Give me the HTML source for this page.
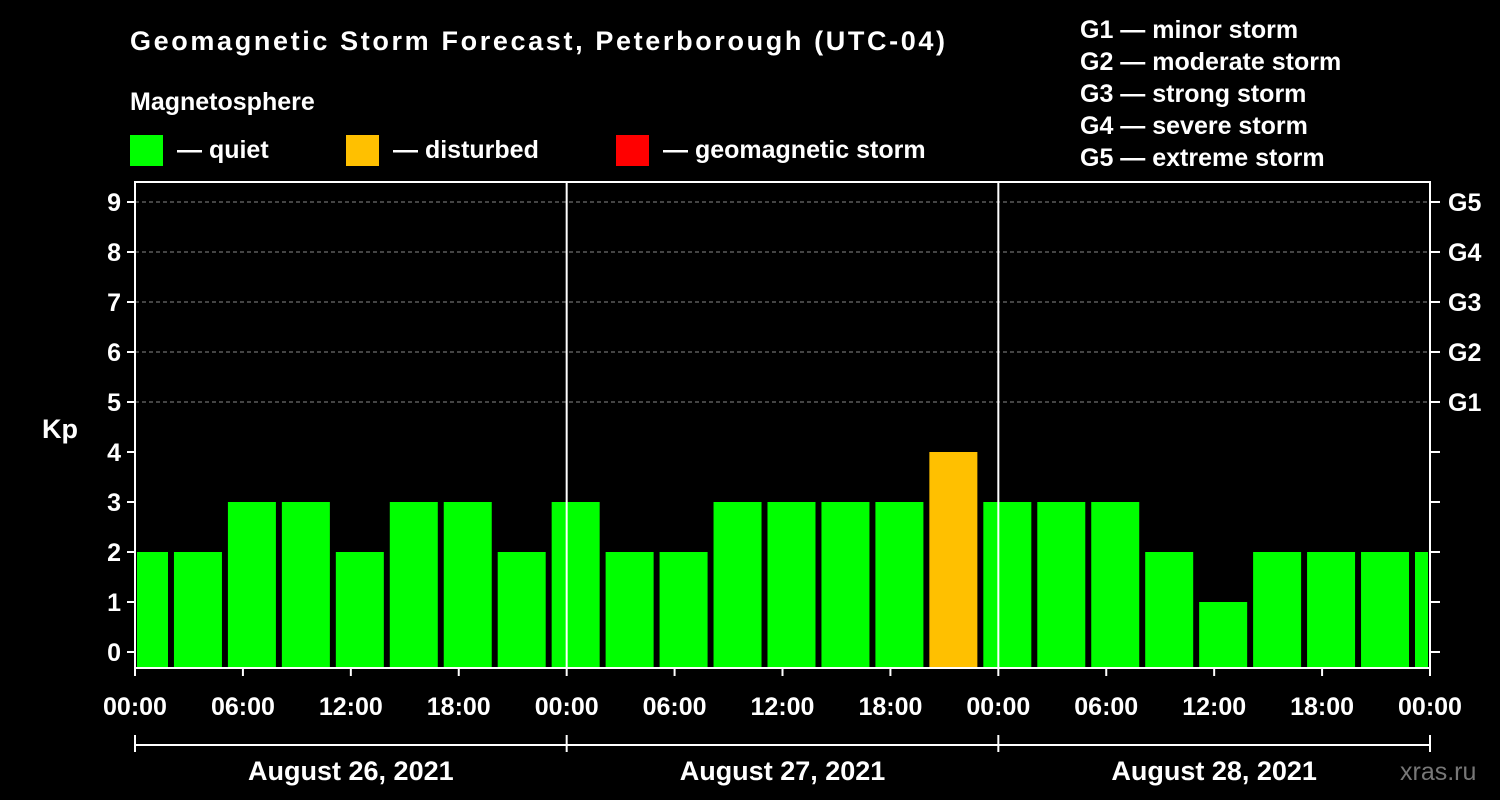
<!DOCTYPE html>
<html><head><meta charset="utf-8"><style>
html,body{margin:0;padding:0;background:#000;}
svg{display:block;font-family:"Liberation Sans",Arial,sans-serif;font-weight:bold;}
</style></head><body>
<svg id="chart" width="1500" height="800" viewBox="0 0 1500 800">
<rect width="1500" height="800" fill="#000"/>
<text x="130" y="50" font-size="27" fill="#fff" textLength="815">Geomagnetic Storm Forecast, Peterborough (UTC-04)</text>
<text x="130" y="110" font-size="25" fill="#fff">Magnetosphere</text>
<g><rect x="130" y="135" width="33" height="31" fill="#00ff00"/><text x="177" y="158" font-size="25" fill="#fff">— quiet</text></g>
<g><rect x="346" y="135" width="33" height="31" fill="#ffc000"/><text x="393" y="158" font-size="25" fill="#fff">— disturbed</text></g>
<g><rect x="616" y="135" width="33" height="31" fill="#ff0000"/><text x="663" y="158" font-size="25" fill="#fff">— geomagnetic storm</text></g>
<g font-size="25" fill="#fff">
<text x="1080" y="38">G1 — minor storm</text>
<text x="1080" y="70">G2 — moderate storm</text>
<text x="1080" y="102">G3 — strong storm</text>
<text x="1080" y="134">G4 — severe storm</text>
<text x="1080" y="166">G5 — extreme storm</text>
</g>
<text x="42" y="438" font-size="27" fill="#fff">Kp</text>
<g id="grid"></g><g id="bars"></g><g id="axes"></g>
<text x="1400" y="780" font-size="25" fill="#777" font-weight="normal">xras.ru</text>
</svg>
<script>
const kpValues=[2,2,3,3,2,3,3,2,3,2,2,3,3,3,3,4,3,3,3,2,1,2,2,2,2];
const yTicks=[0,1,2,3,4,5,6,7,8,9];
const gLabels=["G1","G2","G3","G4","G5"];
const xTickLabels=["00:00","06:00","12:00","18:00","00:00","06:00","12:00","18:00","00:00","06:00","12:00","18:00","00:00"];
const dayLabels=["August 26, 2021","August 27, 2021","August 28, 2021"];
const NS="http://www.w3.org/2000/svg";
const L=135,R=1430,T=182,B=668;
const hours=72;
const xs=h=>L+(R-L)*h/hours;
const ys=v=>652-50*v;
function mk(tag,attrs,parent,text){const e=document.createElementNS(NS,tag);for(const k in attrs)e.setAttribute(k,attrs[k]);if(text!=null)e.textContent=text;parent.appendChild(e);return e;}
const grid=document.getElementById('grid'),bars=document.getElementById('bars'),axes=document.getElementById('axes');
yTicks.forEach(v=>{if(v>=5){const g=mk('line',{x1:L,x2:R,y1:ys(v),y2:ys(v),stroke:'#888','stroke-dasharray':'4,3','stroke-width':1},grid);

}});
kpValues.forEach((v,i)=>{const c=xs(i*3+0.5);let x0=Math.max(L+2,c-24),x1=Math.min(R-2,c+24);
const col=v>=5?'#ff0000':(v>=4?'#ffc000':'#00ff00');
const r=mk('rect',{x:x0,y:ys(v),width:x1-x0,height:B-ys(v),fill:col},bars);

});
const frame=mk('rect',{x:L,y:T,width:R-L,height:B-T,fill:'none',stroke:'#fff','stroke-width':2},axes);


[24,48].forEach(h=>{const l=mk('line',{x1:xs(h),x2:xs(h),y1:T,y2:B,stroke:'#fff','stroke-width':2},axes);

});
yTicks.forEach(v=>{mk('line',{x1:L-8,x2:L,y1:ys(v),y2:ys(v),stroke:'#fff','stroke-width':2},axes);
mk('line',{x1:R,x2:R+10,y1:ys(v),y2:ys(v),stroke:'#fff','stroke-width':2},axes);
const t=mk('text',{x:L-14,y:ys(v)+9,'font-size':25,fill:'#fff','text-anchor':'end'},axes,String(v));


if(v>=5){const g=mk('text',{x:R+18,y:ys(v)+9,'font-size':25,fill:'#fff'},axes,gLabels[v-5]);

}});
xTickLabels.forEach((s,i)=>{const x=xs(i*6);
mk('line',{x1:x,x2:x,y1:B,y2:B+8,stroke:'#fff','stroke-width':2},axes);
const t=mk('text',{x:x,y:715,'font-size':25,fill:'#fff','text-anchor':'middle'},axes,s);

});
mk('line',{x1:L,x2:R,y1:745,y2:745,stroke:'#fff','stroke-width':2},axes);
[0,24,48,72].forEach(h=>mk('line',{x1:xs(h),x2:xs(h),y1:735,y2:752,stroke:'#fff','stroke-width':2},axes));
dayLabels.forEach((s,i)=>{const t=mk('text',{x:xs(i*24+12),y:780,'font-size':27,fill:'#fff','text-anchor':'middle'},axes,s);

});
</script>
</body></html>
